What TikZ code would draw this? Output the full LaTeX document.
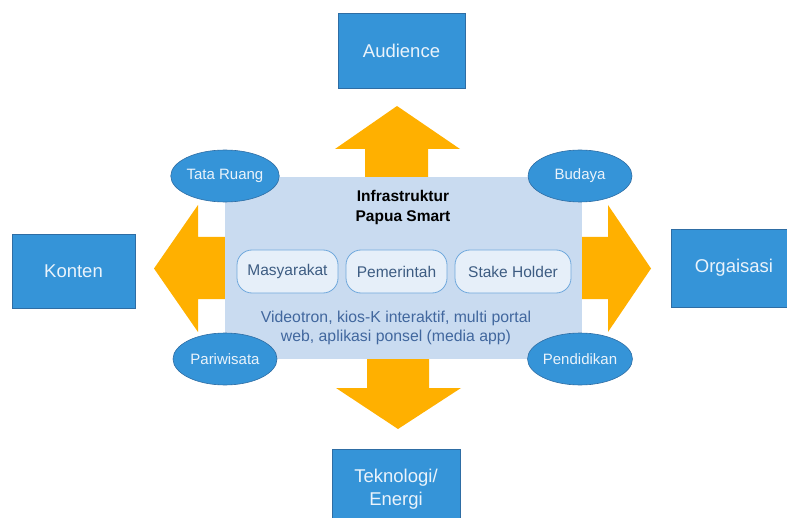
\documentclass[tikz,border=0pt]{standalone}
\usepackage{fontspec}
\setmainfont{Liberation Sans}
\usetikzlibrary{shapes.geometric}
\definecolor{boxblue}{HTML}{3594D8}
\definecolor{boxedge}{HTML}{2E6DA4}
\definecolor{lighttext}{HTML}{EAF3FB}
\definecolor{arroworange}{HTML}{FFB000}
\definecolor{panel}{HTML}{C9DBF0}
\definecolor{pillfill}{HTML}{E6EFF9}
\definecolor{pilledge}{HTML}{6FA8DC}
\definecolor{pilltext}{HTML}{3D5C82}
\definecolor{mediatext}{HTML}{41679E}
\begin{document}
\begin{tikzpicture}[x=1bp,y=-1bp,
  outer/.style={rectangle, draw=boxedge, line width=0.8bp, fill=boxblue, text=lighttext,
    font=\fontsize{18.5bp}{23bp}\selectfont, inner sep=0pt, align=center},
  oval/.style={ellipse, draw=boxedge, line width=0.6bp, fill=boxblue, text=lighttext,
    font=\fontsize{15bp}{18bp}\selectfont, minimum width=104bp, minimum height=52bp, inner sep=0pt},
  pill/.style={rectangle, rounded corners=15bp, draw=pilledge, line width=0.8bp, fill=pillfill,
    text=pilltext, font=\fontsize{15.5bp}{18bp}\selectfont, minimum height=43bp, inner sep=0pt},
  bigarrow/.style={fill=arroworange},
  paneltext/.style={text=mediatext, font=\fontsize{15.8bp}{19bp}\selectfont, align=center, inner sep=0pt},
  titletext/.style={text=black, font=\fontsize{15.5bp}{20bp}\selectfont\bfseries, align=center, inner sep=0pt}
]
\useasboundingbox (0,0) rectangle (787,518);
\clip (0,0) rectangle (787,518);

% outer boxes
\node[outer, minimum width=127bp, minimum height=75bp] (aud) at (401.5,50.5) {Audience};
\node[outer, minimum width=123bp, minimum height=74bp] (kon) at (73.5,271) {Konten};
\node[outer, minimum width=126bp, minimum height=78bp] (org) at (734,268) {Orgaisasi};
\node[outer, minimum width=128bp, minimum height=80bp] (tek) at (396,489) {Teknologi/\\Energi};

% block arrows
\fill[bigarrow] (365,200) -- (365,149) -- (335,149) -- (397,106) -- (460,149) -- (428,149) -- (428,200) -- cycle;
\fill[bigarrow] (367,340) -- (367,388) -- (336,388) -- (398,429) -- (461,388) -- (429,388) -- (429,340) -- cycle;
\fill[bigarrow] (240,237) -- (198,237) -- (198,205) -- (154,268.5) -- (198,332) -- (198,299) -- (240,299) -- cycle;
\fill[bigarrow] (570,237) -- (608,237) -- (608,205) -- (651,268.5) -- (608,332) -- (608,299) -- (570,299) -- cycle;

% central panel
\node[fill=panel, minimum width=357bp, minimum height=182bp, inner sep=0pt] (panel) at (403.5,268) {};
\node[titletext] (title) at (403,207) {Infrastruktur\\Papua Smart};
\node[pill, minimum width=101bp] (mas) at (287.5,271.5) {Masyarakat};
\node[pill, minimum width=101bp] (pem) at (396.5,271.5) {Pemerintah};
\node[pill, minimum width=116bp] (sta) at (513,271.5) {Stake Holder};
\node[paneltext] (media) at (396,327.5) {Videotron, kios-K interaktif, multi portal\\web, aplikasi ponsel (media app)};

% ellipses
\node[oval] (tata) at (225,176) {Tata Ruang};
\node[oval] (bud) at (580,176) {Budaya};
\node[oval] (pari) at (225,359) {Pariwisata};
\node[oval] (pend) at (580,359) {Pendidikan};
\end{tikzpicture}
\end{document}
